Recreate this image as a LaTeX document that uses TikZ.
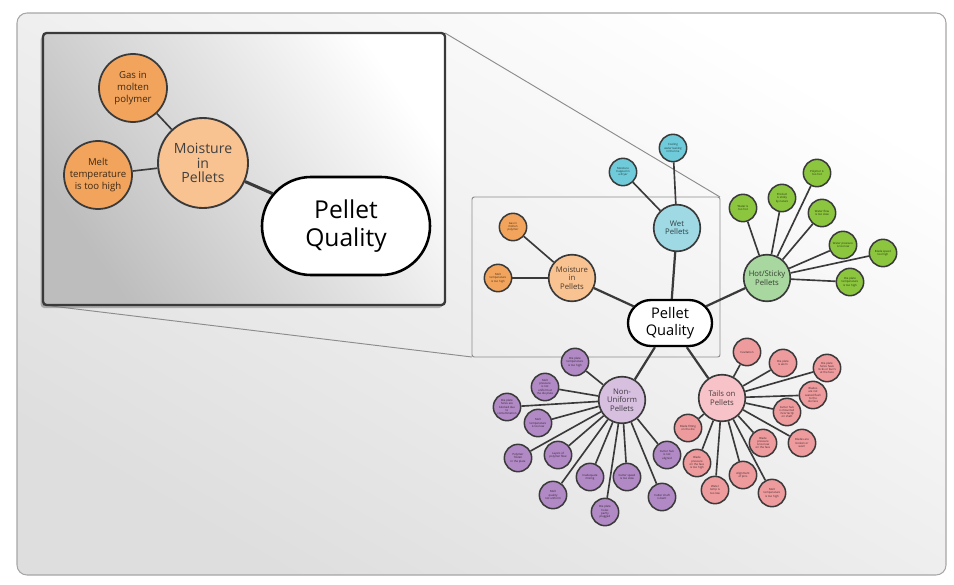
\documentclass[tikz,border=0pt]{standalone}
\usepackage{fontspec}
\setmainfont{Open Sans}
\usetikzlibrary{shapes.misc,shadows}
\definecolor{edge}{HTML}{3A3A3A}
\definecolor{moisleaf}{HTML}{F2A45C}
\definecolor{moishub}{HTML}{F9C391}
\definecolor{wetleaf}{HTML}{6FCBDA}
\definecolor{wethub}{HTML}{9ED9E4}
\definecolor{hotleaf}{HTML}{8CC63F}
\definecolor{hothub}{HTML}{A9D7A0}
\definecolor{nonleaf}{HTML}{B189C4}
\definecolor{nonhub}{HTML}{D7BFE0}
\definecolor{tailleaf}{HTML}{EE9B9E}
\definecolor{tailhub}{HTML}{F7C3C8}
\begin{document}
\begin{tikzpicture}[x=0.03cm,y=-0.03cm,
    leaf/.style={circle,draw=edge,line width=1.3pt,fill=#1,minimum size=0.82cm,inner sep=0pt,
      align=center,text=#1!25!black,font=\fontsize{2.4}{2.8}\selectfont},
    hub/.style={circle,draw=edge,line width=1.4pt,fill=#1,minimum size=1.4cm,inner sep=0pt,
      align=center,text=#1!30!black,font=\fontsize{6.6}{7.2}\selectfont},
    goal/.style={rounded rectangle,draw=black,line width=2pt,fill=white,minimum width=2.52cm,
      minimum height=1.38cm,inner sep=0pt,align=center,font=\fontsize{12.5}{14}\selectfont},
    bigleaf/.style={circle,draw=edge,line width=1.5pt,fill=moisleaf,minimum size=2.04cm,inner sep=0pt,
      align=center,text=moisleaf!25!black,font=\fontsize{8.2}{10}\selectfont},
    bighub/.style={circle,draw=edge,line width=1.6pt,fill=moishub,minimum size=2.7cm,inner sep=0pt,
      align=center,text=black!75,font=\fontsize{12}{12.5}\selectfont},
    biggoal/.style={rounded rectangle,draw=black,line width=2.2pt,fill=white,minimum width=5.04cm,
      minimum height=2.94cm,inner sep=0pt,align=center,font=\fontsize{21}{24}\selectfont},
    spoke/.style={draw=edge,line width=1.4pt},
    trunk/.style={draw=edge,line width=1.9pt},
    zoomline/.style={draw=black!45,line width=0.8pt}]
  \useasboundingbox (0,0) rectangle (954,584);
  \draw[rounded corners=0.3cm,draw=black!35,line width=0.9pt,top color=white,bottom color=black!13,
    shading angle=-30] (17,13) rectangle (946,575);
  \coordinate (fne) at (720,197);
  \coordinate (fsw) at (472,357);
  \coordinate (zne) at (445,33);
  \coordinate (zsw) at (43,305);
  \draw[zoomline,rounded corners=2pt] (fsw) rectangle (fne);
  \draw[zoomline] (zne) -- (fne) (zsw) -- (fsw);
  \draw
    (670,323) node[goal] (pq) {Pellet\\Quality}
    (572,278) node[hub=moishub] (m) {Moisture\\in\\Pellets}
    (677,228) node[hub=wethub] (w) {Wet\\Pellets}
    (767,278) node[hub=hothub] (h) {Hot/Sticky\\Pellets}
    (622,400) node[hub=nonhub] (n) {Non-\\Uniform\\Pellets}
    (722,398) node[hub=tailhub] (t) {Tails on\\Pellets};
  \draw
    (513,227) node[leaf=moisleaf] (m1) {Gas in\\molten\\polymer}
    (498,278) node[leaf=moisleaf] (m2) {Melt\\temperature\\is too high}
    (623,172) node[leaf=wetleaf] (w1) {Moisture\\trapped in\\a dryer}
    (673,148) node[leaf=wetleaf] (w2) {Cooling\\water leaking\\in the line};
  \draw
    (743,208) node[leaf=hotleaf] (h1) {Water is\\too hot}
    (782,198) node[leaf=hotleaf] (h2) {Product\\is sticky\\by nature}
    (817,173) node[leaf=hotleaf] (h3) {Polymer is\\too hot}
    (822,213) node[leaf=hotleaf] (h4) {Water flow\\is too slow}
    (843,245) node[leaf=hotleaf] (h5) {Water pressure\\is too low}
    (883,253) node[leaf=hotleaf] (h6) {Blade speed\\too high}
    (850,282) node[leaf=hotleaf] (h7) {Die plate\\temperature\\is too high};
  \draw
    (575,362) node[leaf=nonleaf] (n1) {Die plate\\temperature\\is too high}
    (545,387) node[leaf=nonleaf] (n2) {Melt\\pressure\\is not\\uniform at\\the die plate}
    (507,407) node[leaf=nonleaf] (n3) {Die plate\\holes are\\blocked due\\to\\contamination}
    (538,423) node[leaf=nonleaf] (n4) {Melt\\temperature\\is too low}
    (518,458) node[leaf=nonleaf] (n5) {Polymer\\frozen\\in the plate}
    (558,455) node[leaf=nonleaf] (n6) {Layers of\\polymer flow}
    (590,477) node[leaf=nonleaf] (n7) {Inadequate\\mixing}
    (553,495) node[leaf=nonleaf] (n8) {Melt\\quality\\not uniform}
    (605,512) node[leaf=nonleaf] (n9) {Die plate\\holes\\partly\\plugged}
    (627,477) node[leaf=nonleaf] (n10) {Cutter speed\\is too slow}
    (667,455) node[leaf=nonleaf] (n11) {Cutter hub\\is not\\aligned}
    (662,497) node[leaf=nonleaf] (n12) {Cutter shaft\\is bent};
  \draw
    (747,352) node[leaf=tailleaf] (t1) {Cavitation}
    (783,363) node[leaf=tailleaf] (t2) {Die plate\\is worn}
    (827,368) node[leaf=tailleaf] (t3) {Die plate\\holes have\\nicks or burrs\\at the face}
    (813,395) node[leaf=tailleaf] (t4) {Blades\\are not\\seated flush\\to the\\die face}
    (787,412) node[leaf=tailleaf] (t5) {Cutter hub\\is mounted\\incorrectly\\on shaft}
    (802,443) node[leaf=tailleaf] (t6) {Blades are\\broken or\\worn}
    (763,443) node[leaf=tailleaf] (t7) {Blade\\pressure\\is too low\\on the face}
    (688,428) node[leaf=tailleaf] (t8) {Blade fitting\\on the die}
    (697,463) node[leaf=tailleaf] (t9) {Blade\\pressure\\on the face\\is too high}
    (743,475) node[leaf=tailleaf] (t10) {Alignment\\of pins}
    (772,493) node[leaf=tailleaf] (t11) {Melt\\temperature\\is too high}
    (715,490) node[leaf=tailleaf] (t12) {Water\\temp is\\too low};
  \begin{scope}[trunk]
    \draw (pq) to (m);
    \draw (pq) to (w);
    \draw (pq) to (h);
    \draw (pq) to (n);
    \draw (pq) to (t);
  \end{scope}
  \begin{scope}[spoke]
    \draw (m) to (m1);
    \draw (m) to (m2);
    \draw (w) to (w1);
    \draw (w) to (w2);
    \draw (h) to (h1);
    \draw (h) to (h2);
    \draw (h) to (h3);
    \draw (h) to (h4);
    \draw (h) to (h5);
    \draw (h) to (h6);
    \draw (h) to (h7);
    \draw (n) to (n1);
    \draw (n) to (n2);
    \draw (n) to (n3);
    \draw (n) to (n4);
    \draw (n) to (n5);
    \draw (n) to (n6);
    \draw (n) to (n7);
    \draw (n) to (n8);
    \draw (n) to (n9);
    \draw (n) to (n10);
    \draw (n) to (n11);
    \draw (n) to (n12);
    \draw (t) to (t1);
    \draw (t) to (t2);
    \draw (t) to (t3);
    \draw (t) to (t4);
    \draw (t) to (t5);
    \draw (t) to (t6);
    \draw (t) to (t7);
    \draw (t) to (t8);
    \draw (t) to (t9);
    \draw (t) to (t10);
    \draw (t) to (t11);
    \draw (t) to (t12);
  \end{scope}
  \draw[rounded corners=3pt,draw=edge,line width=2pt,top color=white,bottom color=black!26,shading angle=-55,
    drop shadow={shadow xshift=-0.07cm,shadow yshift=-0.09cm,fill=black!55}] (zsw) rectangle (zne);
  \draw
    (346,226) node[biggoal] (bigpq) {Pellet\\Quality}
    (203,163) node[bighub] (bigm) {Moisture\\in\\Pellets}
    (133,88) node[bigleaf] (bigm1) {Gas in\\molten\\polymer}
    (98,175) node[bigleaf] (bigm2) {Melt\\temperature\\is too high};
  \begin{scope}[spoke]
    \draw (bigm) to (bigm1);
    \draw (bigm) to (bigm2);
    \draw[line width=2.6pt] (bigm) to (bigpq);
  \end{scope}
\end{tikzpicture}
\end{document}
